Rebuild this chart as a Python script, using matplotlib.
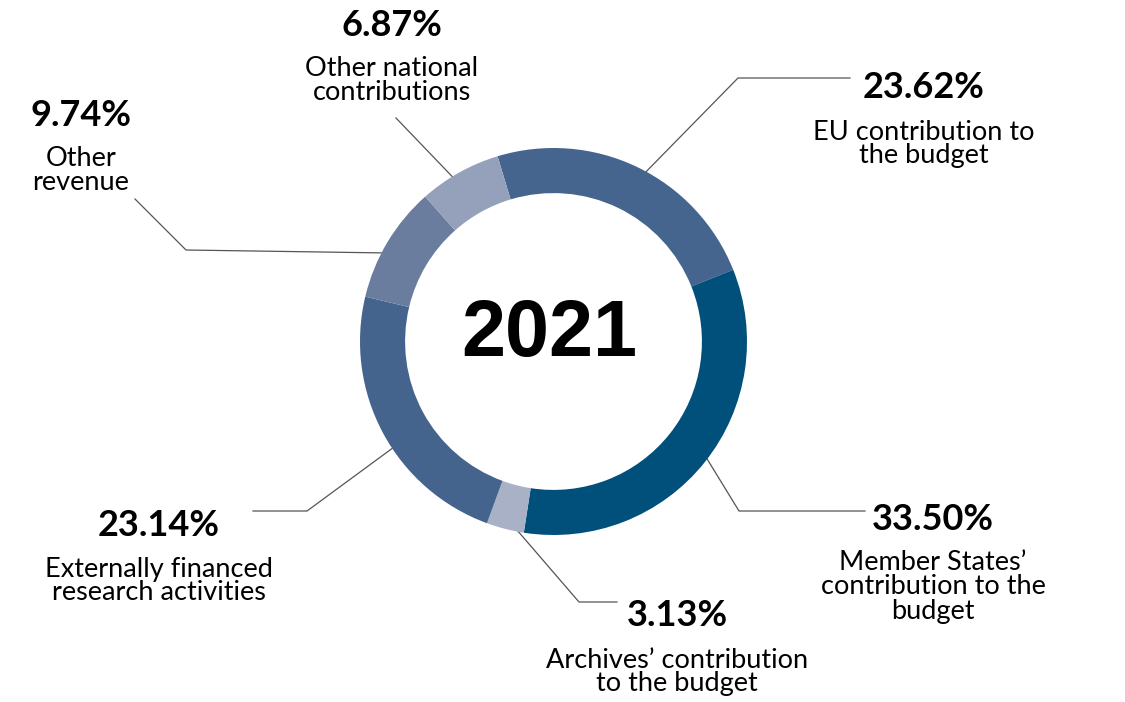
import numpy as np
import matplotlib
matplotlib.use('Agg')
import matplotlib.pyplot as plt

# revenue breakdown 2021 (%), clockwise from the top
labels = ['EU contribution to\nthe budget',
          'Member States\u2019\ncontribution to the\nbudget',
          'Archives\u2019 contribution\nto the budget',
          'Externally financed\nresearch activities',
          'Other\nrevenue',
          'Other national\ncontributions']
shares = [23.62, 33.50, 3.13, 23.14, 9.74, 6.87]
colors = ['#45658e', '#00507b', '#a9b1c7', '#44648d', '#6b7d9e', '#95a1ba']

W, H = 1125, 702
cx, cy, R = 553.5, 702 - 341.5, 193.5
start = 106.8

# label layout, in pixels from top-left:
# (pct x, pct y, text y, angle nudge for the line start, elbow + end of line)
layout = [
    (924, 88, 144, -2.4, [(738, 78), (850, 78)]),
    (933, 520, 587, 1.8, [(739, 511), (865, 511)]),
    (677, 616, 672, 1.8, [(579, 602), (617, 602)]),
    (159, 526, 581, 5.2, [(307, 511), (253, 511)]),
    (81, 116, 171, 2.8, [(186, 250), (135, 199)]),
    (392, 25, 81, 2.0, [(396, 118)]),
]

fig = plt.figure(figsize=(W / 100, H / 100), dpi=100)
ax = fig.add_axes([0, 0, 1, 1])

wedges, _ = ax.pie(shares, colors=colors, startangle=start, counterclock=False,
                   radius=R, center=(cx, cy), frame=True,
                   wedgeprops=dict(width=R * 0.233, linewidth=0, zorder=3))
ax.set_xlim(0, W)
ax.set_ylim(0, H)
ax.set_aspect('equal')
ax.axis('off')

ax.text(cx - 4, cy + 6, '2021', ha='center', va='center', fontsize=57,
        fontweight='bold', family='Liberation Sans', color='black')

for w, s, lab, (tx, ty, dy, nudge, pts) in zip(wedges, shares, labels, layout):
    mid = np.deg2rad((w.theta1 + w.theta2) / 2 + nudge)
    xs = [cx + R * 0.97 * np.cos(mid)] + [p[0] for p in pts]
    ys = [cy + R * 0.97 * np.sin(mid)] + [H - p[1] for p in pts]
    ax.plot(xs, ys, color='#555555', lw=0.9, zorder=1)
    ax.text(tx, H - ty, f'{s:.2f}%', ha='center', va='center', fontsize=26,
            fontweight='bold', family='Lato', color='black')
    ax.text(tx, H - dy, lab, ha='center', va='center', fontsize=19.5,
            family='Lato', color='black', linespacing=0.95)

fig.savefig('out.png', dpi=100, facecolor='white')
